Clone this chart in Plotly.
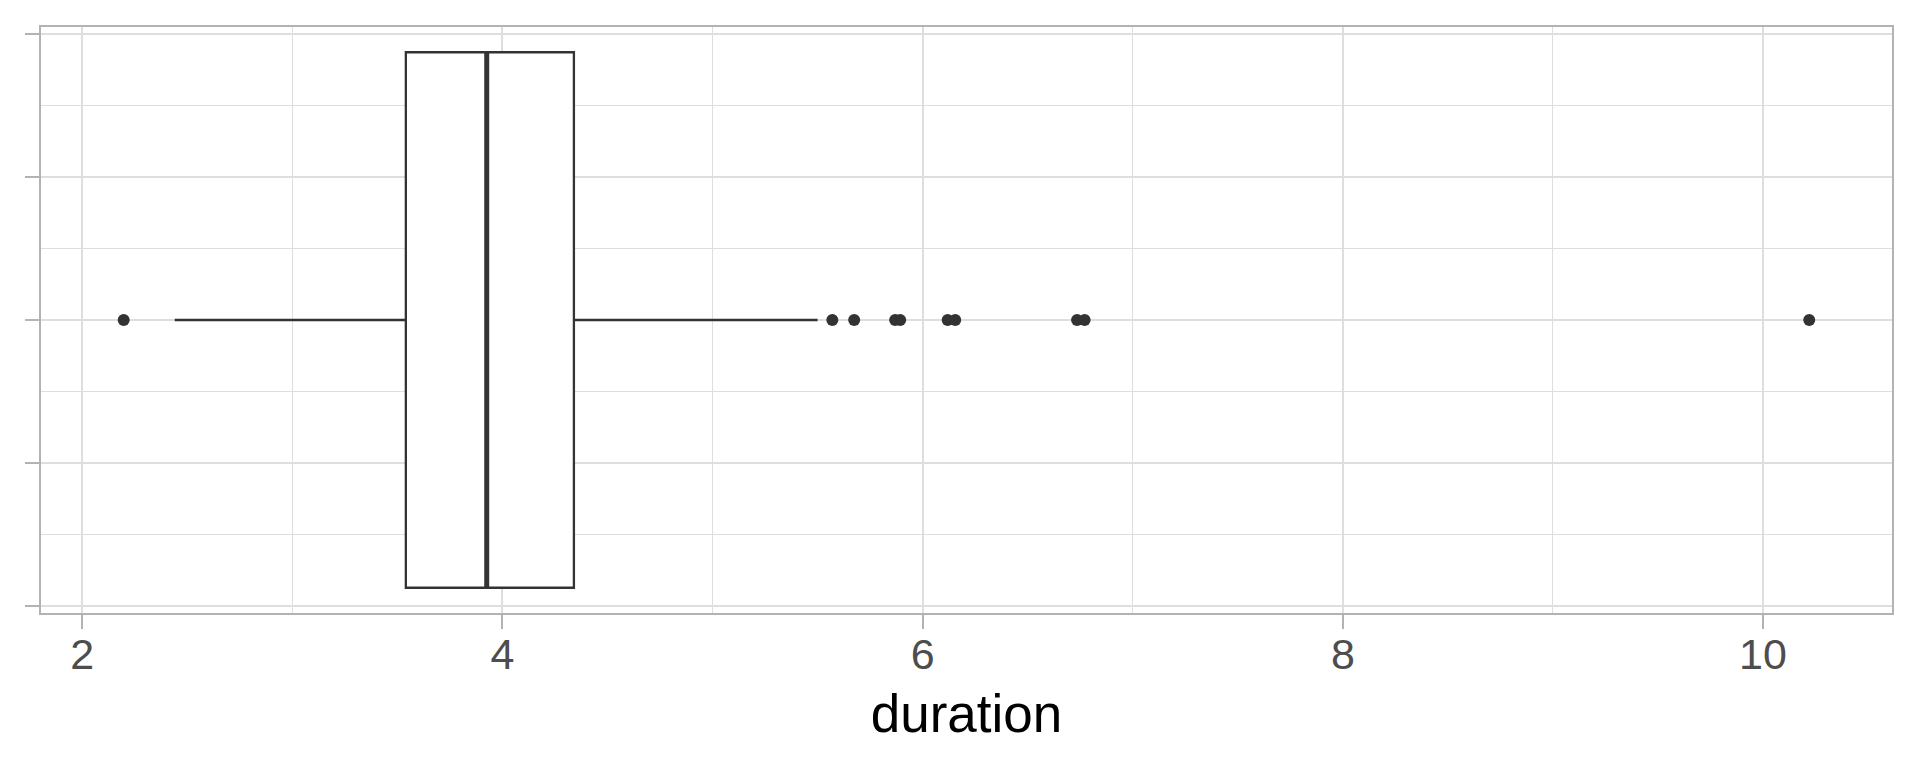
import plotly.graph_objects as go

# ---- data ----
group_pos = [0]
q1 = [3.54]
median = [3.925]
q3 = [4.34]
lower_whisker = [2.44]
upper_whisker = [5.50]
box_half_width = 0.375
outliers = [2.197, 5.570, 5.674, 5.869, 5.893, 6.119, 6.155, 6.735, 6.771, 10.22]

x_ticks = [2, 4, 6, 8, 10]
x_minor = [3, 5, 7, 9]
y_ticks = [-0.4, -0.2, 0, 0.2, 0.4]
y_minor = [-0.3, -0.1, 0.1, 0.3]
x_title = "duration"

DARK = "#333333"
GRID = "#dedede"
BORDER = "#b3b3b3"
FONT = "Liberation Sans, Arial, Helvetica, sans-serif"

fig = go.Figure()

fig.add_trace(go.Box(
    y=group_pos, q1=q1, median=median, q3=q3,
    lowerfence=lower_whisker, upperfence=upper_whisker,
    orientation="h", width=2 * box_half_width,
    boxpoints=False, whiskerwidth=0,
    fillcolor="white", line=dict(color=DARK, width=2.3),
    hoverinfo="skip",
))

# thicker median line (as in ggplot)
fig.add_trace(go.Scatter(
    x=[median[0], median[0]],
    y=[group_pos[0] - box_half_width, group_pos[0] + box_half_width],
    mode="lines", line=dict(color=DARK, width=5),
    hoverinfo="skip",
))

fig.add_trace(go.Scatter(
    x=outliers, y=[group_pos[0]] * len(outliers),
    mode="markers", marker=dict(color=DARK, size=12, line=dict(width=0)),
    hoverinfo="skip",
))

# page body has an 8px margin: figure is placed at (8, 8)
fig.update_layout(
    width=1904, height=752,
    margin=dict(l=33, r=20, t=19, b=147),
    plot_bgcolor="white", paper_bgcolor="white",
    showlegend=False,
    font=dict(family=FONT, color="#4d4d4d"),
    xaxis=dict(
        range=[1.8034, 10.614],
        tickvals=x_ticks, ticktext=[str(v) for v in x_ticks],
        tickfont=dict(size=43, color="#4d4d4d", family=FONT),
        ticks="outside", ticklen=14, tickwidth=2, tickcolor=BORDER,
        ticklabelstandoff=-12,
        showgrid=True, gridcolor=GRID, gridwidth=2,
        minor=dict(tickvals=x_minor, showgrid=True, gridcolor=GRID, gridwidth=1, ticks=""),
        showline=True, linecolor=BORDER, linewidth=2, mirror=True,
        zeroline=False,
        title=dict(text=x_title, font=dict(size=53, color="black", family=FONT), standoff=18),
    ),
    yaxis=dict(
        range=[-0.4104, 0.4104],
        tickvals=y_ticks, showticklabels=False,
        ticks="outside", ticklen=14, tickwidth=2, tickcolor=BORDER,
        showgrid=True, gridcolor=GRID, gridwidth=2,
        minor=dict(tickvals=y_minor, showgrid=True, gridcolor=GRID, gridwidth=1, ticks=""),
        showline=True, linecolor=BORDER, linewidth=2, mirror=True,
        zeroline=False,
    ),
)

fig.write_html("out.html")
